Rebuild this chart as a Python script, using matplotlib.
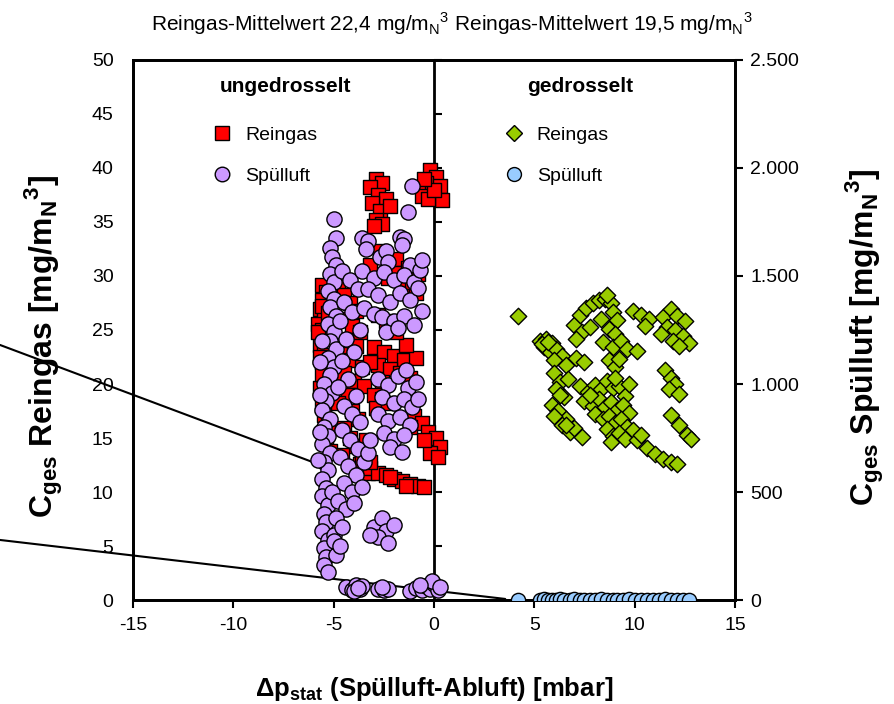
import matplotlib
matplotlib.use("Agg")
import matplotlib.pyplot as plt
from matplotlib.lines import Line2D
from matplotlib.ticker import FuncFormatter, MultipleLocator, NullFormatter

plt.rcParams["font.family"] = ["Liberation Sans", "DejaVu Sans"]
plt.rcParams["mathtext.fontset"] = "custom"
plt.rcParams["mathtext.rm"] = "Liberation Sans"
plt.rcParams["mathtext.bf"] = "Liberation Sans:bold"
plt.rcParams["axes.unicode_minus"] = False

# --- ungedrosselt: Reingas [mg/m3] (left axis) ---
rein_u_x = [-5.6, -5.4, -5.6, -5.7, -5.5, -5.8, -5.6, -5.4, -5.7, -5.5, -5.6, -5.4, -5.5, -5.7,
            -5.4, -5.6, -5.5, -5.3, -5.5, -5.4, -5.2, -5.6, -5.3, -5.8, -5.2, -5.7, -5.3, -5.6,
            -4.8, -4.5, -4.2, -3.9, -4.6, -4.1, -3.7, -4.4, -3.9, -4.7, -4.2, -3.6, -4.5, -4.0,
            -3.5, -4.3, -4.8, -4.1, -3.8, -4.5, -4.2, -3.9, -3.4, -4.6, -3.7, -3.3,
            -2.9, -2.6, -3.2, -2.8, -2.4, -3.1, -2.7, -2.9, -2.6, -3.0, -2.2,
            -0.2, 0.1, -0.4, 0.3, -0.1, -0.6, 0.4, -0.3, 0.0, -0.5,
            -2.7, -1.9, -1.3, -0.8, -2.3, -1.6, -0.9, -3.2, -2.0, -1.1,
            -3.0, -2.5, -2.0, -1.5, -2.8, -2.2, -1.7, -1.2, -0.9, -2.6, -3.2, -1.4, -1.9,
            -3.0, -2.6, -2.9, -2.3,
            -1.0, -0.6, -0.3, 0.1, 0.3, -0.2, 0.2, -0.5, -1.2,
            -3.2, -2.8, -2.4, -2.0, -1.6, -1.2, -0.8, -0.5, -2.2, -1.4,
            -3.6, -3.2, -2.8, -2.4]
rein_u_y = [29.2, 28.5, 27.8, 26.9, 26.2, 25.6, 25.0, 24.3, 23.6, 22.9, 22.0, 21.2, 20.4, 19.6,
            18.8, 18.0, 17.1, 16.3, 15.5, 14.6, 13.8, 27.2, 26.6, 24.8, 24.0, 22.5, 21.8, 20.9,
            29.0, 28.2, 27.5, 26.8, 26.0, 25.4, 24.8, 24.1, 23.5, 22.8, 22.2, 21.6, 21.0, 20.3,
            19.8, 19.0, 18.2, 17.5, 16.8, 15.9, 15.0, 14.3, 14.8, 13.4, 12.6, 11.8,
            39.0, 38.6, 38.2, 37.5, 37.1, 36.8, 36.0, 35.2, 34.8, 34.6, 36.5,
            39.8, 39.2, 38.6, 38.3, 37.8, 37.4, 37.0, 37.1, 38.0, 39.0,
            32.3, 31.6, 30.7, 30.2, 29.8, 28.9, 28.4, 31.0, 30.3, 29.4,
            23.4, 23.0, 22.6, 22.2, 21.8, 21.4, 21.0, 20.6, 22.4, 20.2, 22.0, 23.6, 24.8,
            19.0, 18.6, 17.8, 18.2,
            17.0, 16.4, 15.6, 15.0, 14.2, 13.6, 13.2, 14.8, 16.0,
            12.2, 11.8, 11.6, 11.2, 11.0, 10.7, 10.6, 10.5, 11.4, 10.6,
            13.0, 12.8, 26.4, 25.8]

# --- ungedrosselt: Spülluft [mg/m3] (right axis) ---
spuel_u_x = [-5.0, -4.9, -5.2, -5.1, -4.9, -5.2, -5.0, -5.3, -5.0, -5.2, -4.9, -5.3, -5.0, -5.2,
             -4.9, -5.3, -5.0, -5.2, -5.5, -5.1, -5.4, -5.6, -5.2, -5.5, -5.3, -5.6, -5.2, -5.5,
             -5.3, -5.6, -5.4, -5.6, -5.3, -5.5, -5.4, -5.6, -5.3, -5.5, -5.4, -5.5, -5.3, -5.7,
             -5.7, -5.8, -5.1, -5.0, -4.9, -5.7, -5.6,
             -4.6, -4.2, -3.8, -4.5, -4.1, -4.7, -3.7, -4.4, -4.0, -4.6, -3.6, -4.3, -4.8, -3.9,
             -4.5, -4.1, -3.7, -4.6, -4.2, -3.8, -4.7, -4.3, -3.9, -4.5, -4.1, -4.8, -4.4, -4.9,
             -4.6, -5.0, -4.7, -3.5, -3.3, -3.6, -4.0, -3.2,
             -1.1, -1.3, -3.6, -3.3, -1.7, -1.5, -1.6, -3.4, -2.7, -2.4, -2.3, -1.2, -3.6, -3.0,
             -2.5, -2.0, -1.5, -1.0, -0.7, -0.6, -3.3, -2.8, -2.2, -1.7, -1.2, -0.8, -3.5, -3.0,
             -2.6, -2.0, -1.5, -1.0, -0.6, -2.4, -1.8,
             -2.8, -2.3, -1.8, -1.3, -2.6, -2.0, -1.5, -1.1, -2.8, -2.3, -1.7, -1.2, -2.5, -2.0,
             -1.5, -0.8, -2.2, -1.6, -0.9, -1.4,
             -3.0, -2.6, -2.4, -2.8, -2.3, -2.0, -3.2,
             -4.4, -4.1, -3.9, -3.7, -3.6, -4.0, -3.8, -2.8, -2.5, -2.3, -2.6,
             -1.2, -0.9, -0.6, -0.4, -0.2, 0.0, 0.2, -0.1, 0.3, -0.7]
spuel_u_y = [1765, 1675, 1630, 1590, 1550, 1510, 1470, 1430, 1395, 1355, 1315, 1280, 1240, 1200,
             1160, 1120, 1080, 1040, 1000, 960, 920, 880, 840, 800, 760, 720, 680, 640,
             600, 560, 520, 480, 440, 400, 360, 320, 280, 240, 200, 160, 130, 950,
             780, 650, 500, 300, 210, 1100, 1200,
             1525, 1480, 1440, 1380, 1335, 1290, 1250, 1210, 1150, 1105, 1070, 1025, 985, 945,
             900, 860, 825, 785, 740, 700, 660, 620, 580, 540, 500, 460, 420, 380,
             340, 275, 250, 640, 680, 525, 450, 740,
             1915, 1795, 1675, 1660, 1680, 1670, 1645, 1625, 1590, 1615, 1565, 1550, 1525, 1490,
             1520, 1480, 1505, 1470, 1530, 1575, 1440, 1410, 1380, 1420, 1390, 1445, 1350, 1325,
             1310, 1290, 1315, 1275, 1340, 1240, 1260,
             1025, 995, 1035, 980, 940, 910, 930, 895, 860, 830, 845, 810, 775, 745,
             765, 930, 710, 685, 1010, 1065,
             340, 380, 320, 290, 265, 345, 300,
             60, 45, 70, 50, 65, 40, 55, 50, 45, 50, 60,
             40, 55, 45, 65, 50, 75, 45, 90, 60, 70]

# --- gedrosselt: Reingas [mg/m3] (left axis) ---
rein_g_x = [4.2,
            5.3, 5.6, 5.9, 5.5, 5.8, 6.1, 6.4, 6.0, 6.6, 5.4, 5.7,
            6.0, 6.3, 6.1, 6.5, 5.9, 6.2, 6.6, 6.0, 6.4, 6.8, 7.0, 6.3, 6.7,
            7.1, 7.5,
            7.0, 7.3, 7.6, 7.9, 8.2, 8.5, 8.8, 8.9, 9.1, 7.4, 7.8, 8.3, 8.7, 9.0, 7.1, 8.6,
            8.4, 8.9, 9.3, 9.6, 8.7, 9.0, 9.2,
            7.3, 7.7, 8.0, 8.3, 8.6, 8.9, 9.2, 9.5, 7.5, 7.9, 8.2, 8.5, 8.8, 9.1, 9.4, 9.7,
            8.0, 8.4, 8.7, 9.0, 9.3, 9.6, 9.9, 8.6, 8.9, 9.2, 9.5, 8.8, 10.1, 10.3, 7.8, 9.0, 9.7,
            9.9, 10.3, 10.7, 10.5,
            11.4, 11.8, 12.1, 12.5, 11.6, 12.0, 12.4, 11.3, 11.9, 12.7, 12.2,
            10.1, 11.5, 11.8, 12.0, 11.7, 12.2,
            11.8, 12.2, 12.6, 12.8,
            10.6, 11.0, 11.4, 11.8, 12.1,
            6.6, 7.4]
rein_g_y = [26.3,
            24.0, 24.2, 23.8, 23.4, 23.0, 23.2, 22.6, 22.2, 21.8, 23.7, 23.9,
            21.0, 20.2, 19.5, 18.8, 18.1, 17.5, 16.8, 17.0, 16.2, 15.6, 15.9, 19.0, 20.5,
            22.4, 22.0,
            25.5, 26.4, 27.0, 27.5, 27.8, 27.9, 27.5, 26.7, 25.9, 24.8, 25.3, 26.0, 25.1, 24.6, 24.2, 28.2,
            23.9, 23.4, 24.0, 23.2, 22.2, 21.6, 22.3,
            19.8, 19.3, 19.9, 19.5, 20.3, 19.6, 19.8, 18.9, 18.4, 18.0, 18.6, 17.9, 18.3, 17.6, 18.1, 17.3,
            17.2, 16.8, 17.0, 16.4, 16.8, 16.0, 15.7, 15.8, 15.2, 15.5, 14.9, 14.6, 14.8, 15.3, 19.0, 20.6, 20.0,
            26.8, 26.4, 26.0, 25.4,
            26.2, 26.9, 26.3, 25.8, 25.3, 25.0, 24.4, 24.6, 24.0, 23.8, 23.5,
            23.1, 21.3, 20.6, 20.0, 19.5, 19.1,
            17.1, 16.2, 15.3, 14.9,
            14.1, 13.5, 13.1, 12.8, 12.6,
            16.2, 15.1]

# --- gedrosselt: Spülluft [mg/m3] (right axis) ---
spuel_g_x = [4.2, 5.3, 5.5, 5.7, 5.9, 6.1, 6.3, 6.5, 6.8, 7.0, 7.3, 7.5, 7.8, 8.0, 8.3,
             8.6, 8.9, 9.1, 9.4, 9.7, 10.0, 10.3, 10.6, 10.9, 11.2, 11.5, 11.8, 12.1, 12.4, 12.7]
spuel_g_y = [2, 1, 3, 0, 2, 1, 4, 2, 1, 3, 0, 2, 1, 2, 3,
             1, 0, 2, 1, 3, 2, 1, 0, 2, 1, 3, 2, 1, 0, 2]

x_ticks = [-15, -10, -5, 0, 5, 10, 15]

fig = plt.figure(figsize=(8.95, 7.04), dpi=100)
ax = fig.add_axes([0.1486, 0.1477, 0.6726, 0.7671])
ax2 = ax.twinx()

ax.set_xlim(-15, 15)
ax.set_ylim(0, 50)
ax2.set_ylim(0, 2500)

ax.scatter(rein_u_x, rein_u_y, marker="s", s=115, c="#FF0000", edgecolors="black",
           linewidths=1, zorder=3)
ax.scatter(rein_g_x, rein_g_y, marker="D", s=70, c="#99CC00", edgecolors="black",
           linewidths=1, zorder=3)
ax2.scatter(spuel_u_x, spuel_u_y, marker="o", s=120, c="#CC99FF", edgecolors="black",
            linewidths=1, zorder=3)
ax2.scatter(spuel_g_x, spuel_g_y, marker="o", s=105, c="#99CCFF", edgecolors="black",
            linewidths=1, zorder=3)

# y axis crossing at x = 0
ax.axvline(0, color="black", lw=2, zorder=2)
sec = ax.secondary_yaxis(0.5)
sec.spines["left"].set_visible(False)
sec.yaxis.set_major_locator(MultipleLocator(5))
sec.yaxis.set_major_formatter(NullFormatter())
sec.tick_params(axis="y", direction="out", length=6, width=1.5)

for sp in ["left", "right", "top", "bottom"]:
    ax.spines[sp].set_linewidth(2)
    ax2.spines[sp].set_linewidth(2)

ax.set_xticks(x_ticks)
ax.yaxis.set_major_locator(MultipleLocator(5))
ax.tick_params(axis="y", length=0, labelsize=14, pad=14)
ax.tick_params(axis="x", direction="out", length=6, width=1.5, labelsize=14, pad=6)
ax2.yaxis.set_major_locator(MultipleLocator(500))
ax2.yaxis.set_major_formatter(FuncFormatter(lambda v, p: f"{int(v):,}".replace(",", ".")))
ax2.tick_params(axis="y", direction="out", length=6, width=1.5, labelsize=14, pad=5)

ax.set_xlabel("Δp$_{\\mathbf{stat}}$ (Spülluft-Abluft) [mbar]", fontsize=18.5,
              fontweight="bold")
ax.xaxis.set_label_coords(0.5, -0.138)
ax.set_ylabel("C$_{\\mathbf{ges}}$ Reingas [mg/m$_{\\mathbf{N}}{}^{\\mathbf{3}}$]", fontsize=23,
              fontweight="bold")
ax.yaxis.set_label_coords(-0.113, 0.47)
ax2.set_ylabel("C$_{\\mathbf{ges}}$ Spülluft [mg/m$_{\\mathbf{N}}{}^{\\mathbf{3}}$]", fontsize=23,
               fontweight="bold")
ax2.yaxis.set_label_coords(1.18, 0.487)

fig.text(0.505, 0.966, "Reingas-Mittelwert 22,4 mg/m$_\\mathrm{N}{}^3$ "
         "Reingas-Mittelwert 19,5 mg/m$_\\mathrm{N}{}^3$", ha="center", va="center", fontsize=15)

ax.text(-7.4, 47.5, "ungedrosselt", ha="center", va="center", fontsize=15, fontweight="bold")
ax.text(7.3, 47.5, "gedrosselt", ha="center", va="center", fontsize=15, fontweight="bold")

h_u = [Line2D([], [], ls="none", marker="s", ms=10, mfc="#FF0000", mec="black", label="Reingas"),
       Line2D([], [], ls="none", marker="o", ms=10.5, mfc="#CC99FF", mec="black", label="Spülluft")]
h_g = [Line2D([], [], ls="none", marker="D", ms=8, mfc="#99CC00", mec="black", label="Reingas"),
       Line2D([], [], ls="none", marker="o", ms=10, mfc="#99CCFF", mec="black", label="Spülluft")]
leg_kw = dict(loc="upper left", frameon=False, fontsize=14, handlelength=1,
              handletextpad=0.7, labelspacing=1.2, borderpad=0, borderaxespad=0)
leg1 = ax2.legend(handles=h_u, bbox_to_anchor=(0.131, 0.877), **leg_kw)
ax2.add_artist(leg1)
ax2.legend(handles=h_g, bbox_to_anchor=(0.616, 0.877), **leg_kw)

# pointer lines from annotations outside the picture
ax.annotate("", xy=(-5.8, 12.6), xytext=(0.0, 0.51), textcoords="figure fraction",
            arrowprops=dict(arrowstyle="-", lw=1.5, color="black", shrinkA=0, shrinkB=0),
            zorder=5)
ax.annotate("", xy=(3.55, 0.1), xytext=(0.0, 0.233), textcoords="figure fraction",
            arrowprops=dict(arrowstyle="-", lw=1.5, color="black", shrinkA=0, shrinkB=0),
            zorder=5)

fig.savefig("out.png", dpi=100)
